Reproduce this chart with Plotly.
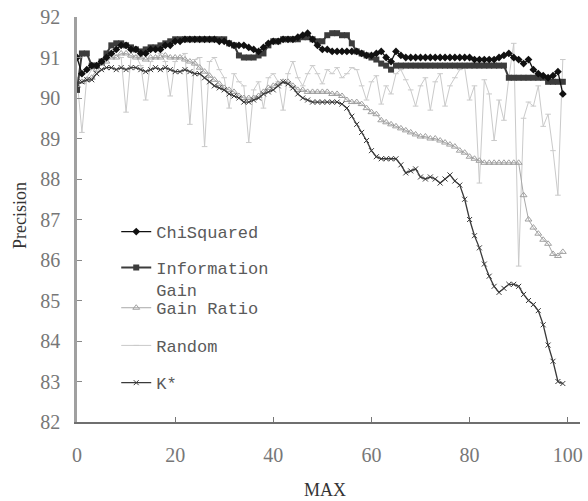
import plotly.graph_objects as go

x_max = list(range(0, 100))

chi_squared = [
    91.0, 90.6, 90.7, 90.8, 90.8, 90.9, 91.0, 91.1, 91.2, 91.3,
    91.3, 91.2, 91.2, 91.1, 91.1, 91.2, 91.2, 91.2, 91.3, 91.3,
    91.4, 91.4, 91.45, 91.45, 91.45, 91.45, 91.45, 91.45, 91.45, 91.4,
    91.4, 91.35, 91.3, 91.3, 91.3, 91.25, 91.2, 91.15, 91.25, 91.35,
    91.4, 91.4, 91.45, 91.45, 91.45, 91.5, 91.55, 91.6, 91.45, 91.3,
    91.2, 91.2, 91.15, 91.15, 91.15, 91.15, 91.15, 91.15, 91.1, 91.05,
    91.05, 91.1, 91.15, 91.0, 90.9, 91.15, 91.05, 91.0, 91.0, 91.0,
    91.0, 91.0, 91.0, 91.0, 91.0, 91.0, 91.0, 91.0, 91.0, 91.0,
    91.0, 90.95, 90.95, 90.95, 90.95, 90.95, 91.0, 91.05, 91.1, 91.0,
    90.95, 90.85, 90.95, 90.7, 90.6, 90.55, 90.5, 90.55, 90.65, 90.1,
]

information_gain = [
    90.2, 91.1, 91.1, 90.8, 90.8, 90.9, 91.1, 91.3, 91.35, 91.35,
    91.3, 91.25, 91.2, 91.15, 91.2, 91.25, 91.25, 91.3, 91.35, 91.4,
    91.45, 91.45, 91.45, 91.45, 91.45, 91.45, 91.45, 91.45, 91.45, 91.45,
    91.45, 91.35, 91.3, 91.05, 91.0, 91.0, 91.0, 91.05, 91.1, 91.3,
    91.4, 91.4, 91.45, 91.45, 91.45, 91.45, 91.5, 91.5, 91.45, 91.4,
    91.4, 91.55, 91.6, 91.6, 91.55, 91.55, 91.35, 91.15, 91.1, 91.05,
    91.0, 90.95, 90.85, 90.8, 90.7, 90.8, 90.8, 90.8, 90.8, 90.8,
    90.8, 90.8, 90.8, 90.8, 90.8, 90.8, 90.8, 90.8, 90.8, 90.8,
    90.8, 90.8, 90.8, 90.8, 90.8, 90.8, 90.8, 90.8, 90.5, 90.5,
    90.5, 90.5, 90.5, 90.5, 90.5, 90.5, 90.4, 90.4, 90.4, 90.4,
]

gain_ratio = [
    90.3, 90.4, 90.45, 90.5, 90.7, 90.85, 90.9, 91.0, 91.0, 91.1,
    91.1, 91.05, 91.0, 91.0, 90.95, 91.0, 91.0, 91.0, 91.05, 91.0,
    91.0, 91.0, 90.95, 90.9, 90.85, 90.75, 90.65, 90.55, 90.45, 90.35,
    90.25, 90.2, 90.15, 90.05, 90.0, 90.0, 90.0, 90.05, 90.15, 90.25,
    90.3, 90.35, 90.4, 90.4, 90.3, 90.2, 90.2, 90.15, 90.15, 90.15,
    90.15, 90.15, 90.1, 90.1, 90.05, 89.95, 89.9, 89.9, 89.85, 89.75,
    89.65, 89.6, 89.45, 89.4, 89.35, 89.3, 89.25, 89.2, 89.15, 89.1,
    89.05, 89.05, 89.0, 89.0, 88.95, 88.9, 88.85, 88.8, 88.7, 88.65,
    88.55, 88.5, 88.45, 88.4, 88.4, 88.4, 88.4, 88.4, 88.4, 88.4,
    88.4, 87.6, 87.0, 86.8, 86.65, 86.5, 86.4, 86.15, 86.1, 86.2,
]

random_sel = [
    90.5, 89.15, 90.5, 90.7, 90.8, 90.9, 91.0, 91.1, 91.05, 91.0,
    89.65, 91.0, 91.05, 90.8, 89.95, 90.9, 91.0, 91.1, 90.9, 90.05,
    90.9, 91.0, 91.1, 89.35, 90.95, 91.0, 88.8, 90.9, 91.0, 90.7,
    90.5, 89.75, 90.6, 90.4, 90.3, 88.9, 90.2, 90.4, 89.75, 90.5,
    90.6, 90.4, 89.7, 90.6, 90.9, 90.5, 90.3, 90.6, 90.8, 90.6,
    90.35, 90.7, 90.6, 90.75, 90.5, 90.6, 90.75, 90.7, 90.3, 89.95,
    90.4, 90.55, 89.85, 90.3, 90.1, 90.6, 90.7, 90.45, 90.2, 89.8,
    90.3, 90.5, 89.7, 90.4, 90.6, 89.8, 90.3, 90.5, 90.7, 90.75,
    89.95, 90.3, 87.9, 90.45, 90.1, 88.95, 89.95, 89.45, 90.5, 91.35,
    85.85, 89.5, 89.9, 89.8, 90.3, 89.3, 89.6, 88.7, 87.6, 90.95,
]

k_star = [
    90.35, 90.4, 90.45, 90.45, 90.6, 90.7, 90.75, 90.75, 90.7, 90.75,
    90.7, 90.75, 90.75, 90.7, 90.65, 90.7, 90.75, 90.7, 90.75, 90.7,
    90.65, 90.65, 90.7, 90.65, 90.6, 90.6, 90.5, 90.4, 90.3, 90.25,
    90.2, 90.1, 90.05, 90.0, 89.9, 89.9, 89.95, 90.0, 90.1, 90.15,
    90.2, 90.3, 90.4, 90.35, 90.25, 90.1, 90.0, 89.95, 89.9, 89.9,
    89.9, 89.9, 89.9, 89.9, 89.85, 89.75, 89.55, 89.35, 89.15, 88.95,
    88.7, 88.55, 88.5, 88.5, 88.5, 88.5, 88.35, 88.15, 88.2, 88.25,
    88.05, 88.0, 88.05, 88.0, 87.9, 88.0, 88.1, 87.95, 87.85, 87.5,
    87.0, 86.6, 86.3, 85.9, 85.6, 85.35, 85.2, 85.3, 85.4, 85.4,
    85.35, 85.15, 85.0, 84.9, 84.75, 84.4, 83.9, 83.5, 83.0, 82.95,
]

x_ticks = [0, 20, 40, 60, 80, 100]
y_ticks = [82, 83, 84, 85, 86, 87, 88, 89, 90, 91, 92]

fig = go.Figure()

fig.add_trace(go.Scatter(
    x=x_max, y=random_sel, name="Random", mode="lines+markers",
    line=dict(color="#cacaca", width=1),
    marker=dict(symbol="line-ew-open", size=4, color="#cacaca", line=dict(width=1, color="#cacaca")),
    legend="legend4"))
fig.add_trace(go.Scatter(
    x=x_max, y=gain_ratio, name="Gain Ratio", mode="lines+markers",
    line=dict(color="#a8a8a8", width=1),
    marker=dict(symbol="triangle-up-open", size=6, color="#a0a0a0", line=dict(width=1, color="#a0a0a0")),
    legend="legend3"))
fig.add_trace(go.Scatter(
    x=x_max, y=k_star, name="K*", mode="lines+markers",
    line=dict(color="#3a3a3a", width=1.3),
    marker=dict(symbol="x-thin-open", size=5, color="#3a3a3a", line=dict(width=1, color="#3a3a3a")),
    legend="legend5"))
fig.add_trace(go.Scatter(
    x=x_max, y=information_gain, name="Information<br>Gain", mode="lines+markers",
    line=dict(color="#3c3c3c", width=2),
    marker=dict(symbol="square", size=6, color="#3c3c3c"),
    legend="legend2"))
fig.add_trace(go.Scatter(
    x=x_max, y=chi_squared, name="ChiSquared", mode="lines+markers",
    line=dict(color="#111111", width=1.3),
    marker=dict(symbol="diamond", size=6, color="#111111"),
    legend="legend"))

tick_font = dict(family="Liberation Serif, serif", size=20, color="#777777")
leg_font = dict(family="Liberation Mono, monospace", size=17, color="#5a5a5a")


def leg(y):
    return dict(x=0.078, y=y, xanchor="left", yanchor="middle", font=leg_font,
                bgcolor="rgba(0,0,0,0)", valign="top")


fig.update_layout(
    width=588, height=501,
    margin=dict(l=77, r=8, t=17, b=79),
    paper_bgcolor="white", plot_bgcolor="white",
    showlegend=True,
    legend=leg(0.469),
    legend2=leg(0.353),
    legend3=leg(0.281),
    legend4=leg(0.188),
    legend5=leg(0.096),
    xaxis=dict(
        range=[0, 102.5], tickvals=x_ticks, ticktext=[str(v) for v in x_ticks],
        showgrid=False, zeroline=False, showline=True, linecolor="#6f6f6f", linewidth=2,
        ticks="inside", ticklen=5, tickcolor="#777777", tickwidth=1,
        tickfont=tick_font, ticklabelstandoff=14, automargin=False,
        ticklabeloverflow="allow",
    ),
    yaxis=dict(
        range=[82, 92], tickvals=y_ticks, ticktext=[str(v) for v in y_ticks],
        showgrid=False, zeroline=False, showline=True, linecolor="#a0a0a0", linewidth=2.5,
        ticks="inside", ticklen=5, tickcolor="#888888", tickwidth=1,
        tickfont=tick_font, ticklabelstandoff=10, automargin=False,
        ticklabeloverflow="allow",
    ),
    annotations=[
        dict(text="MAX", xref="paper", yref="paper", x=0.493, y=-0.168,
             xanchor="center", yanchor="middle", showarrow=False,
             font=dict(family="Liberation Serif, serif", size=18, color="#333333")),
        dict(text="Precision", xref="paper", yref="paper", x=-0.113, y=0.509,
             xanchor="center", yanchor="middle", showarrow=False, textangle=-90,
             font=dict(family="Liberation Serif, serif", size=18, color="#333333")),
    ],
)

fig.write_html("out.html", config={"displayModeBar": False},
               post_script="document.body.style.margin='0';")
